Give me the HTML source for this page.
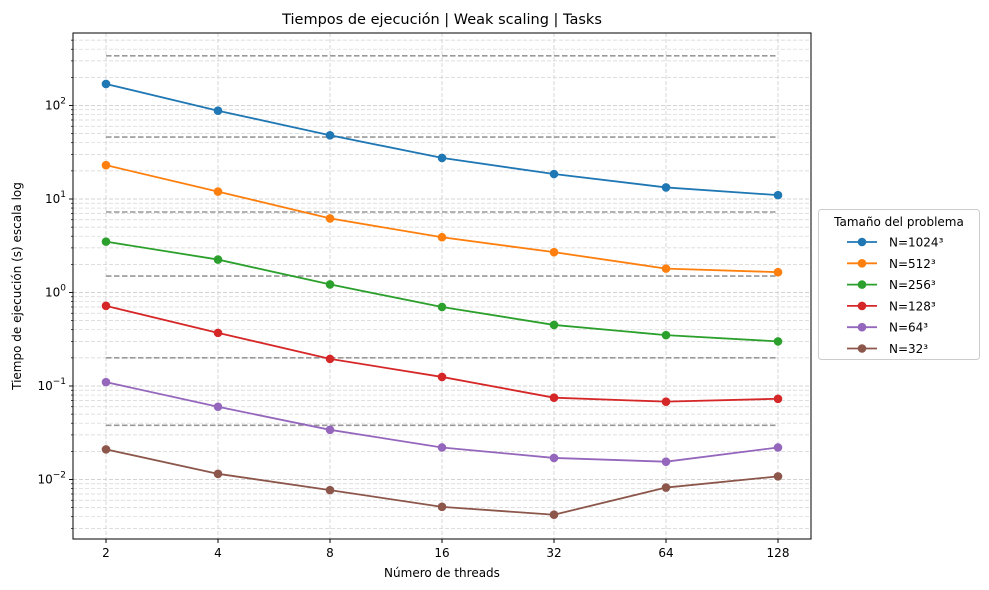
<!DOCTYPE html>
<html><head><meta charset="utf-8"><style>
body{margin:0;background:#fff;}
svg{display:block;font-family:"DejaVu Sans","Liberation Sans",sans-serif;}
</style></head><body>
<svg id="chart" width="989" height="590" viewBox="0 0 989 590"></svg>
<script>
const threads=[2,4,8,16,32,64,128];
const seriesNames=["N=1024³","N=512³","N=256³","N=128³","N=64³","N=32³"];
const colors=["#1f77b4","#ff7f0e","#2ca02c","#d62728","#9467bd","#8c564b"];
const s1024=[170,88,48,27.5,18.5,13.3,11];
const s512=[23,12,6.2,3.9,2.7,1.8,1.65];
const s256=[3.5,2.25,1.22,0.70,0.45,0.35,0.30];
const s128=[0.72,0.37,0.195,0.125,0.075,0.068,0.073];
const s64=[0.11,0.06,0.034,0.022,0.017,0.0155,0.022];
const s32=[0.021,0.0115,0.0077,0.0051,0.0042,0.0082,0.0108];
const refLines=[340,46,7.26,1.5,0.2,0.038];
const yTickExp=[-2,-1,0,1,2];
const allSeries=[s1024,s512,s256,s128,s64,s32];

const NS="http://www.w3.org/2000/svg";
const svg=document.getElementById('chart');
const L=73,R=811,T=33,B=539;
const x=v=>106+112*Math.log2(v/2);
const y=v=>292.5-93.5*Math.log10(v);
function mk(tag,attrs,parent){const e=document.createElementNS(NS,tag);for(const k in attrs)e.setAttribute(k,attrs[k]);(parent||svg).appendChild(e);return e;}

const grid=mk('g',{});


for(let e=-3;e<=2;e++){for(let m=1;m<=9;m++){const v=m*Math.pow(10,e);const yy=y(v);if(yy<T||yy>B)continue;
mk('line',{x1:L,x2:R,y1:yy,y2:yy,stroke:'#d3d3d3','stroke-width':m==1?0.9:0.7,'stroke-dasharray':'4,2'},grid);}}
threads.forEach(t=>mk('line',{x1:x(t),x2:x(t),y1:T,y2:B,stroke:'#d3d3d3','stroke-width':0.9,'stroke-dasharray':'4,2'},grid));

refLines.forEach(v=>{const l=mk('line',{x1:x(2),x2:x(128),y1:y(v),y2:y(v),stroke:'#999','stroke-width':1.6,'stroke-dasharray':'5.5,2.5'});

});

allSeries.forEach((s,i)=>{const g=mk('g',{});


mk('polyline',{points:s.map((v,j)=>x(threads[j])+','+y(v)).join(' '),fill:'none',stroke:colors[i],'stroke-width':1.8},g);
s.forEach((v,j)=>{const c=mk('circle',{cx:x(threads[j]),cy:y(v),r:4.3,fill:colors[i]},g);

});});

const fr=mk('rect',{x:L,y:T,width:R-L,height:B-T,fill:'none',stroke:'#000','stroke-width':1});



threads.forEach(t=>{mk('line',{x1:x(t),x2:x(t),y1:B,y2:B+4,stroke:'#000'});
const tx=mk('text',{x:x(t),y:B+18,'font-size':12,'text-anchor':'middle'});tx.textContent=t;

});
for(let e=-3;e<=2;e++){for(let m=1;m<=9;m++){const v=m*Math.pow(10,e);const yy=y(v);if(yy<T||yy>B)continue;
mk('line',{x1:L-(m==1?4:2),x2:L,y1:yy,y2:yy,stroke:'#000','stroke-width':m==1?0.9:0.7});}}
yTickExp.forEach(e=>{const tx=mk('text',{x:L-7,y:y(Math.pow(10,e))+4,'font-size':12,'text-anchor':'end'});
tx.innerHTML='10<tspan dy="-6" font-size="9">'+(e<0?'−'+(-e):e)+'</tspan>';

});

let t=mk('text',{x:442,y:24,'font-size':14.5,'text-anchor':'middle'});t.textContent='Tiempos de ejecución | Weak scaling | Tasks';


t=mk('text',{x:442,y:577,'font-size':12,'text-anchor':'middle'});t.textContent='Número de threads';


t=mk('text',{x:21,y:286,'font-size':12,'text-anchor':'middle',transform:'rotate(-90 21 286)'});t.textContent='Tiempo de ejecución (s) escala log';



const lg=mk('g',{});


mk('rect',{x:818.5,y:209.5,width:161,height:150,rx:3,fill:'#fff',stroke:'#ccc'},lg);
t=mk('text',{x:899,y:226,'font-size':12,'text-anchor':'middle'},lg);t.textContent='Tamaño del problema';


seriesNames.forEach((n,i)=>{const yy=242+21.3*i;const g=mk('g',{},lg);


mk('line',{x1:847,x2:877,y1:yy,y2:yy,stroke:colors[i],'stroke-width':1.8},g);
mk('circle',{cx:862,cy:yy,r:4.3,fill:colors[i]},g);
const tt=mk('text',{x:889,y:yy+4.5,'font-size':12},g);tt.textContent=n;});
</script>
</body></html>
